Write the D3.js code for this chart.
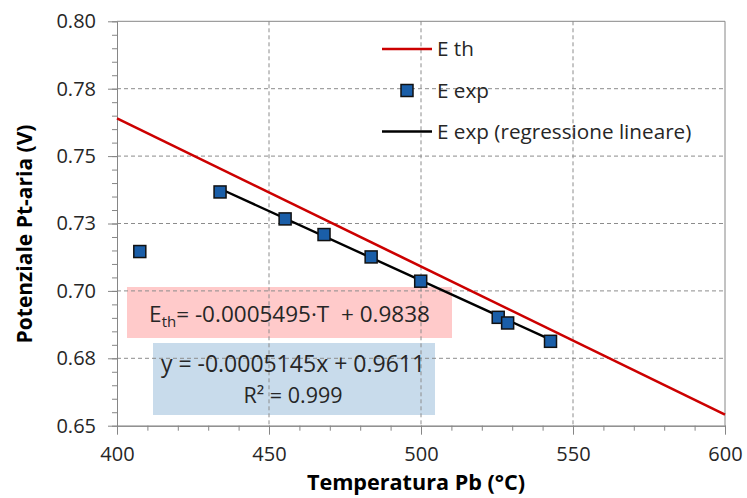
<!DOCTYPE html>
<html>
<head>
<meta charset="utf-8">
<script src="https://cdn.jsdelivr.net/npm/d3@7/dist/d3.min.js"></script>
<style>
  html, body { margin: 0; padding: 0; background: #ffffff; }
  svg { display: block; font-family: "Open Sans", "Noto Sans", sans-serif; }
</style>
</head>
<body>
<svg id="chart" width="747" height="498"></svg>
<script>
// ---- data ----
const expT = [407.5, 433.9, 455.3, 468.1, 483.6, 499.9, 525.4, 528.5, 542.6];
const expE = [0.7146, 0.7367, 0.7267, 0.7209, 0.7126, 0.7036, 0.6902, 0.6881, 0.6813];
const thT = [400, 600];
const thE = [0.7640, 0.6541];
const regT = [433.9, 542.6];
const regE = [0.7379, 0.6819];
const yTickValues = [0.65, 0.675, 0.70, 0.725, 0.75, 0.775, 0.80];
const yTickLabels = ["0.65", "0.68", "0.70", "0.73", "0.75", "0.78", "0.80"];
const xTickValues = [400, 450, 500, 550, 600];
const xTickLabels = ["400", "450", "500", "550", "600"];
const legendLabels = ["E th", "E exp", "E exp (regressione lineare)"];
const eqTh = ["E", "th", "= -0.0005495\u00B7T \u00A0+ 0.9838"];
const eqReg = ["y = -0.0005145x + 0.9611", "R\u00B2 = 0.999"];
const xTitle = "Temperatura Pb (\u00B0C)";
const yTitle = "Potenziale Pt-aria (V)";

// ---- layout ----
const L = 117, R = 725, T = 21.3, B = 425.7;
const svg = d3.select("#chart");
const x = d3.scaleLinear().domain([400, 600]).range([L, R]);
const y = d3.scaleLinear().domain([0.65, 0.80]).range([B, T]);
const axisColor = "#868686";
const textColor = "#262626";

// annotation boxes (behind grid)
svg.append("rect").attr("x", 127).attr("y", 287).attr("width", 325).attr("height", 51)
  .attr("fill", "#ffcaca");
svg.append("rect").attr("x", 153).attr("y", 343).attr("width", 282).attr("height", 72)
  .attr("fill", "#c8dbeb");

// grid
const grid = svg.append("g");
grid.selectAll("line.h").data(yTickValues.filter(v => v > 0.65 && v < 0.80)).join("line")
  .attr("x1", L).attr("x2", R).attr("y1", d => y(d)).attr("y2", d => y(d))
  .attr("stroke", "#8c8c8c").attr("stroke-width", 1).attr("stroke-dasharray", "4,3");
grid.selectAll("line.v").data(xTickValues.filter(v => v > 400 && v < 600)).join("line")
  .attr("y1", T).attr("y2", B).attr("x1", d => x(d)).attr("x2", d => x(d))
  .attr("stroke", "#8c8c8c").attr("stroke-width", 1).attr("stroke-dasharray", "4,3");

// border top/right
svg.append("line").attr("x1", L).attr("x2", R).attr("y1", T).attr("y2", T).attr("stroke", axisColor);
svg.append("line").attr("x1", R).attr("x2", R).attr("y1", T).attr("y2", B).attr("stroke", axisColor);

// axes: minor ticks
const yMinor = d3.range(0.65, 0.8001, 0.005);
const xMinor = d3.range(400, 600.1, 10);
svg.append("g").attr("transform", `translate(${L},0)`)
  .call(d3.axisLeft(y).tickValues(yMinor).tickFormat("").tickSize(5).tickSizeOuter(0))
  .call(g => g.selectAll("line,path").attr("stroke", axisColor));
svg.append("g").attr("transform", `translate(0,${B})`)
  .call(d3.axisBottom(x).tickValues(xMinor).tickFormat("").tickSize(5).tickSizeOuter(0))
  .call(g => g.selectAll("line,path").attr("stroke", axisColor));
// major ticks
const yAxis = svg.append("g").attr("transform", `translate(${L},0)`)
  .call(d3.axisLeft(y).tickValues(yTickValues).tickFormat((d, i) => yTickLabels[i]).tickSize(9).tickPadding(12).tickSizeOuter(0));
yAxis.selectAll("line,path").attr("stroke", axisColor);
yAxis.selectAll("text").attr("fill", textColor).style("font-size", "20px").style("font-family", "'Open Sans', sans-serif");
const xAxis = svg.append("g").attr("transform", `translate(0,${B})`)
  .call(d3.axisBottom(x).tickValues(xTickValues).tickFormat((d, i) => xTickLabels[i]).tickSize(9).tickPadding(12).tickSizeOuter(0));
xAxis.selectAll("line,path").attr("stroke", axisColor);
xAxis.selectAll("text").attr("fill", textColor).style("font-size", "20px").style("font-family", "'Open Sans', sans-serif");

// lines
const line = d3.line().x(d => x(d[0])).y(d => y(d[1]));
svg.append("path").datum(thT.map((t, i) => [t, thE[i]])).attr("d", line)
  .attr("fill", "none").attr("stroke", "#cc0000").attr("stroke-width", 2.6);
svg.append("path").datum(regT.map((t, i) => [t, regE[i]])).attr("d", line)
  .attr("fill", "none").attr("stroke", "#000000").attr("stroke-width", 2.4);

// markers
const ms = 12;
svg.append("g").selectAll("rect").data(expT.map((t, i) => [t, expE[i]])).join("rect")
  .attr("x", d => x(d[0]) - ms / 2).attr("y", d => y(d[1]) - ms / 2)
  .attr("width", ms).attr("height", ms)
  .attr("fill", "#1a5ea8").attr("stroke", "#111111").attr("stroke-width", 1.5);

// legend
const lg = svg.append("g");
lg.append("line").attr("x1", 382).attr("x2", 432).attr("y1", 49).attr("y2", 49)
  .attr("stroke", "#cc0000").attr("stroke-width", 2.6);
lg.append("rect").attr("x", 407 - ms / 2).attr("y", 90.5 - ms / 2).attr("width", ms).attr("height", ms)
  .attr("fill", "#1a5ea8").attr("stroke", "#111111").attr("stroke-width", 1.5);
lg.append("line").attr("x1", 382).attr("x2", 432).attr("y1", 131.5).attr("y2", 131.5)
  .attr("stroke", "#000000").attr("stroke-width", 2.4);
lg.selectAll("text").data(legendLabels).join("text")
  .attr("x", 437).attr("y", (d, i) => [49, 90.5, 131.5][i]).attr("dy", "0.35em")
  .attr("fill", textColor).style("font-size", "20.7px").text(d => d);

// equations
const t1 = svg.append("text").attr("x", 289.5).attr("y", 322).attr("text-anchor", "middle")
  .attr("fill", textColor).style("font-size", "22.5px");
t1.append("tspan").text(eqTh[0]);
t1.append("tspan").attr("dy", 5).style("font-size", "15px").text(eqTh[1]);
t1.append("tspan").attr("dy", -5).text(eqTh[2]);
svg.selectAll("text.eq").data(eqReg).join("text").attr("class", "eq")
  .attr("x", 293).attr("y", (d, i) => [372, 403][i]).attr("text-anchor", "middle")
  .attr("fill", textColor).style("font-size", (d, i) => i === 0 ? "23px" : "21.5px").text(d => d);

// titles
svg.append("text").attr("x", 416).attr("y", 490).attr("text-anchor", "middle")
  .attr("fill", "#000").style("font-size", "21.6px").style("font-weight", "bold").text(xTitle);
svg.append("text").attr("transform", "translate(32,234) rotate(-90)").attr("text-anchor", "middle")
  .attr("fill", "#000").style("font-size", "21px").style("font-weight", "bold").text(yTitle);
</script>
</body>
</html>
